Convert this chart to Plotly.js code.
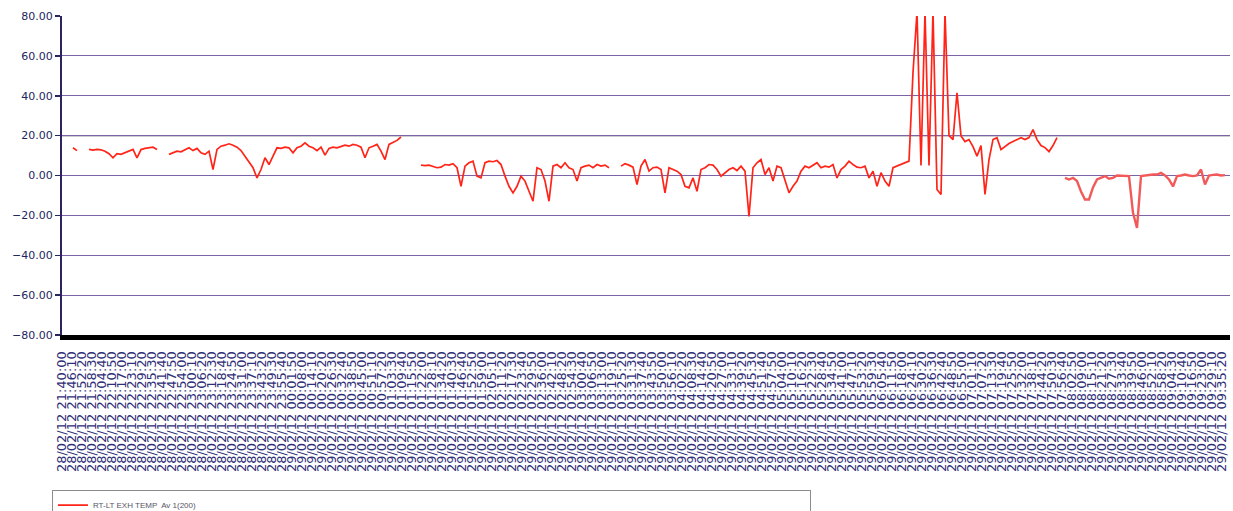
<!DOCTYPE html>
<html>
<head>
<meta charset="utf-8">
<script src="https://cdn.plot.ly/plotly-3.0.1.min.js"></script>
<style>
  html, body { margin: 0; padding: 0; background: #ffffff; }
  #chart { width: 1233px; height: 511px; }
</style>
</head>
<body>
<div id="chart"></div>
<script>
// ---- data ----
const seriesName = "RT-LT EXH TEMP  Av 1(200)";

// main run of samples (sample index 0..248), null = gap in logging
const seriesMain = [
  null, null, 13.9, 12.5, null, null,
  13.1, 12.7, 13.1, 12.9, 12.2, 10.9, 8.9, 11.0, 10.6, 11.4,
  12.2, 13.1, 8.9, 13.0, 13.6, 13.9, 14.2, 13.1, null, null,
  10.6, 11.4, 12.2, 11.9, 13.1, 13.9, 12.5, 13.6, 11.4, 10.6,
  12.2, 3.0, 13.1, 14.7, 15.2, 15.9, 15.2, 14.2, 12.5, 9.7,
  7.2, 3.9, -1.2, 3.0, 8.9, 5.5, 9.7, 13.9, 13.6, 14.2,
  13.9, 11.4, 13.9, 14.7, 16.4, 14.7, 13.9, 12.5, 14.2, 10.2,
  13.6, 14.2, 13.9, 14.7, 15.2, 14.7, 15.6, 15.2, 14.2, 8.9,
  13.9, 14.7, 15.6, 12.2, 8.0, 15.6, 16.4, 17.6, 19.3, null,
  null, null, null,
  5.2, 5.0, 5.2, 4.7, 3.9, 4.2, 5.5, 5.2, 5.9, 3.9,
  -5.4, 4.7, 6.4, 7.2, -0.3, -1.2, 6.4, 7.2, 6.9, 7.5,
  5.5, -0.3, -5.4, -8.7, -5.4, -0.3, -2.8, -7.9, -12.9, 3.9,
  3.0, -2.8, -12.9, 4.7, 5.5, 3.9, 6.4, 3.9, 3.0, -2.8,
  3.9, 4.7, 5.2, 3.9, 5.5, 4.7, 5.2, 3.9, null, null,
  4.7, 5.9, 5.2, 4.2, -4.5, 4.7, 8.0, 2.2, 3.9, 4.2,
  3.0, -8.7, 3.9, 3.0, 2.2, 0.5, -5.4, -6.2, -1.2, -7.9,
  3.0, 3.9, 5.5, 5.2, 3.0, -0.3, 1.4, 3.0, 3.9, 2.5,
  4.7, 2.2, -20.5, 3.9, 6.4, 8.0, 0.5, 3.9, -2.8, 4.7,
  3.9, -2.8, -8.7, -5.4, -2.8, 2.2, 4.7, 3.9, 5.2, 6.4,
  3.9, 4.7, 4.2, 5.5, -1.2, 3.0, 4.7, 7.2, 5.5, 4.2,
  3.9, 4.7, -1.2, 2.2, -5.4, 1.4, -2.8, -5.4, 3.9, 4.7,
  5.9, 6.4, 7.2, 51.6, 82, 5, 82, 5, 82, -7,
  -9.5, 82, 20, 18, 41.5, 19.8, 17, 18, 14.5, 9.7,
  15, -9.5, 8, 18, 19, 13, 14.5, 16, 17, 18,
  19, 18, 19, 23, 18, 15, 14, 12, 15, 19
];

// last run of samples, starting at sample index 250
const tailStartIndex = 250;
const seriesTail = [
  -1.2, -2.0, -1.2, -2.8, -8, -12, -12, -6, -2.0, -1.2,
  -0.3, -1.6, -1.2, 0, 0, -0.3, -0.3, -18.7, -26.3, -0.3,
  0, 0, 0.5, 0.5, 1.3, 0, -2, -5.5, -0.3, 0,
  0.5, 0, -0.3, 0, 3.0, -4.5, 0, 0.3, 0.5, 0, 0.2
];

// x tick labels (date / time of samples)
const tickLabels = [
  "28/02/12 21:40:00","28/02/12 21:46:10","28/02/12 21:52:20","28/02/12 21:58:30","28/02/12 22:04:40",
  "28/02/12 22:10:50","28/02/12 22:17:00","28/02/12 22:23:10","28/02/12 22:29:20","28/02/12 22:35:30",
  "28/02/12 22:41:40","28/02/12 22:47:50","28/02/12 22:54:00","28/02/12 23:00:10","28/02/12 23:06:20",
  "28/02/12 23:12:30","28/02/12 23:18:40","28/02/12 23:24:50","28/02/12 23:31:00","28/02/12 23:37:10",
  "28/02/12 23:43:20","28/02/12 23:49:30","28/02/12 23:55:40","29/02/12 00:01:50","29/02/12 00:08:00",
  "29/02/12 00:14:10","29/02/12 00:20:20","29/02/12 00:26:30","29/02/12 00:32:40","29/02/12 00:38:50",
  "29/02/12 00:45:00","29/02/12 00:51:10","29/02/12 00:57:20","29/02/12 01:03:30","29/02/12 01:09:40",
  "29/02/12 01:15:50","29/02/12 01:22:00","29/02/12 01:28:10","29/02/12 01:34:20","29/02/12 01:40:30",
  "29/02/12 01:46:40","29/02/12 01:52:50","29/02/12 01:59:00","29/02/12 02:05:10","29/02/12 02:11:20",
  "29/02/12 02:17:30","29/02/12 02:23:40","29/02/12 02:29:50","29/02/12 02:36:00","29/02/12 02:42:10",
  "29/02/12 02:48:20","29/02/12 02:54:30","29/02/12 03:00:40","29/02/12 03:06:50","29/02/12 03:13:00",
  "29/02/12 03:19:10","29/02/12 03:25:20","29/02/12 03:31:30","29/02/12 03:37:40","29/02/12 03:43:50",
  "29/02/12 03:50:00","29/02/12 03:56:10","29/02/12 04:02:20","29/02/12 04:08:30","29/02/12 04:14:40",
  "29/02/12 04:20:50","29/02/12 04:27:00","29/02/12 04:33:10","29/02/12 04:39:20","29/02/12 04:45:30",
  "29/02/12 04:51:40","29/02/12 04:57:50","29/02/12 05:04:00","29/02/12 05:10:10","29/02/12 05:16:20",
  "29/02/12 05:22:30","29/02/12 05:28:40","29/02/12 05:34:50","29/02/12 05:41:00","29/02/12 05:47:10",
  "29/02/12 05:53:20","29/02/12 05:59:30","29/02/12 06:05:40","29/02/12 06:11:50","29/02/12 06:18:00",
  "29/02/12 06:24:10","29/02/12 06:30:20","29/02/12 06:36:30","29/02/12 06:42:40","29/02/12 06:48:50",
  "29/02/12 06:55:00","29/02/12 07:01:10","29/02/12 07:07:20","29/02/12 07:13:30","29/02/12 07:19:40",
  "29/02/12 07:25:50","29/02/12 07:32:00","29/02/12 07:38:10","29/02/12 07:44:20","29/02/12 07:50:30",
  "29/02/12 07:56:40","29/02/12 08:02:50","29/02/12 08:09:00","29/02/12 08:15:10","29/02/12 08:21:20",
  "29/02/12 08:27:30","29/02/12 08:33:40","29/02/12 08:39:50","29/02/12 08:46:00","29/02/12 08:52:10",
  "29/02/12 08:58:20","29/02/12 09:04:30","29/02/12 09:10:40","29/02/12 09:16:50","29/02/12 09:23:00",
  "29/02/12 09:29:10","29/02/12 09:35:20"
];
const firstTickIndex = -0.75;   // sample index of first label
const tickStep = 2.5;           // samples between labels
const refLevel = 20;            // emphasised reference line

// ---- build ----
const xMain = seriesMain.map((_, i) => i);
const xTail = seriesTail.map((_, i) => tailStartIndex + i);
const tickVals = tickLabels.map((_, k) => firstTickIndex + k * tickStep);
const lastIndex = firstTickIndex + 292;

const traces = [
  {
    type: "scatter", mode: "lines", name: seriesName,
    x: xMain, y: seriesMain, connectgaps: false,
    line: { color: "#ff2418", width: 1.7 }
  },
  {
    type: "scatter", mode: "lines", name: seriesName, showlegend: false,
    x: xTail, y: seriesTail, connectgaps: false,
    line: { color: "#f25a5a", width: 2.4 }
  }
];

const layout = {
  width: 1233, height: 511,
  paper_bgcolor: "#ffffff", plot_bgcolor: "#ffffff",
  margin: { l: 62, r: 3, t: 16, b: 176, autoexpand: false },
  showlegend: true,
  legend: {
    orientation: "h",
    x: -0.0086, xanchor: "left",
    y: -0.485, yanchor: "top",
    bgcolor: "#ffffff", bordercolor: "#8c8c8c", borderwidth: 1,
    entrywidth: 712, itemwidth: 30,
    font: { family: "Liberation Sans, Arial, sans-serif", size: 8, color: "#555566" }
  },
  xaxis: {
    range: [firstTickIndex, lastIndex],
    tickmode: "array", tickvals: tickVals, ticktext: tickLabels,
    tickangle: -90, ticks: "", ticklabelstandoff: 6,
    tickfont: { family: "DejaVu Sans, sans-serif", size: 13, color: "#2f2f78" },
    showgrid: false, zeroline: false,
    showline: true, linecolor: "#000000", linewidth: 5,
    automargin: false, fixedrange: true
  },
  yaxis: {
    range: [-80, 80], dtick: 20, tick0: 0, tickformat: ".2f",
    ticks: "outside", ticklen: 5, tickcolor: "#2a2560", tickwidth: 1.5,
    tickfont: { family: "DejaVu Sans, sans-serif", size: 11, color: "#241f5e" },
    showgrid: true, gridcolor: "#7c62a6", gridwidth: 1,
    zeroline: false,
    showline: true, linecolor: "#2a2560", linewidth: 2,
    automargin: false, fixedrange: true
  },
  shapes: [
    { type: "line", xref: "paper", x0: 0, x1: 1, yref: "y", y0: refLevel, y1: refLevel,
      line: { color: "#3a3a3a", width: 1.2 }, layer: "below" }
  ]
};

Plotly.newPlot("chart", traces, layout, { staticPlot: true, displayModeBar: false });
</script>
</body>
</html>
